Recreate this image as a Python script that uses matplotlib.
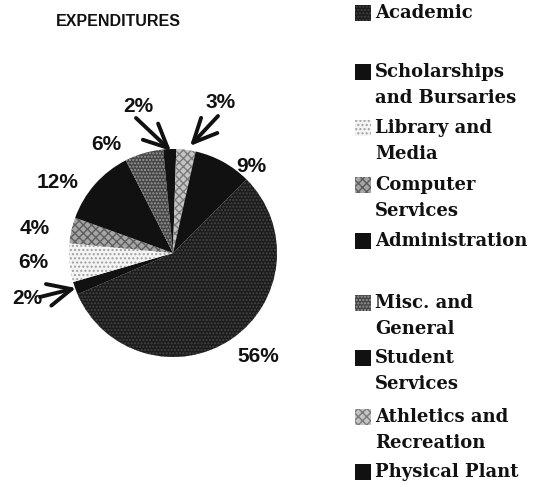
import matplotlib.pyplot as plt
from matplotlib.patches import Rectangle

# data
categories = ['Academic', 'Scholarships\nand Bursaries', 'Library and\nMedia',
              'Computer\nServices', 'Administration', 'Misc. and\nGeneral',
              'Student\nServices', 'Athletics and\nRecreation', 'Physical Plant']
shares = [56, 2, 6, 4, 12, 6, 2, 3, 9]

# fills (scan look: dark dotted, black, light dotted, crosshatch ...)
face = ['#1c1c1c', '#111111', '#f4f4f4', '#a5a5a5', '#111111', '#474747',
        '#111111', '#c4c4c4', '#111111']
hatch = ['.....', None, '....', 'xxxx', None, '.....', None, 'xxxx', None]
hatch_col = ['#444444', '#111111', '#a0a0a0', '#5e5e5e', '#111111', '#9a9a9a',
             '#111111', '#7a7a7a', '#111111']

# label placement (pixel coords of the image, y from top)
label_xy = [(258, 357), (27, 298), (33, 262), (35, 228), (58, 183),
            (106, 145), (138, 106), (221, 102), (251, 166)]
arrow_from = {1: (40, 297), 6: (136, 118), 7: (218, 116)}
arrow_to = {1: (76, 288), 6: (171, 151), 7: (190, 146)}
legend_y = [13, 72, 128, 185, 241, 303, 358, 417, 472]

W, H = 542, 487
plt.rcParams['hatch.linewidth'] = 1.0
fig = plt.figure(figsize=(W / 100, H / 100), dpi=100)
ax = fig.add_axes([0, 0, 1, 1])

cx, cy, r = 173, H - 253, 104
wedges, _ = ax.pie(shares, startangle=45, counterclock=False,
                   center=(cx, cy), radius=r, frame=True)
for w, fc, h, hc in zip(wedges, face, hatch, hatch_col):
    w.set_facecolor(fc)
    w.set_edgecolor(hc)
    w.set_linewidth(0)
    if h:
        w.set_hatch(h)

ax.set_xlim(0, W)
ax.set_ylim(0, H)
ax.set_aspect('equal')
ax.axis('off')

pct_font = dict(fontsize=15, fontweight='bold', family='Liberation Sans',
                ha='center', va='center', color='#111111')
for i, s in enumerate(shares):
    x, y = label_xy[i]
    ax.text(x, H - y, f'{s}%', **pct_font)
    if i in arrow_to:
        fx, fy = arrow_from[i]
        tx, ty = arrow_to[i]
        ax.annotate('', xy=(tx, H - ty), xytext=(fx, H - fy),
                    arrowprops=dict(arrowstyle='->,head_length=1.7,head_width=0.8',
                                    lw=2.8, color='#111111', shrinkA=0, shrinkB=0))

ax.text(118, H - 22, 'EXPENDITURES', fontsize=11.5, fontweight='bold',
        family='Liberation Sans', ha='center', va='center', color='#111111')

# legend drawn by hand to follow the scan's uneven spacing
for i, name in enumerate(categories):
    y0 = legend_y[i]
    sq = Rectangle((355, H - y0 - 8), 16, 16, facecolor=face[i],
                   edgecolor=hatch_col[i], hatch=hatch[i], lw=0)
    ax.add_patch(sq)
    for j, line in enumerate(name.split('\n')):
        ax.text(375, H - y0 - j * 26, line, fontsize=13, fontweight='bold',
                family='DejaVu Serif', ha='left', va='center',
                color='#111111')

fig.savefig('out.png', dpi=100)
